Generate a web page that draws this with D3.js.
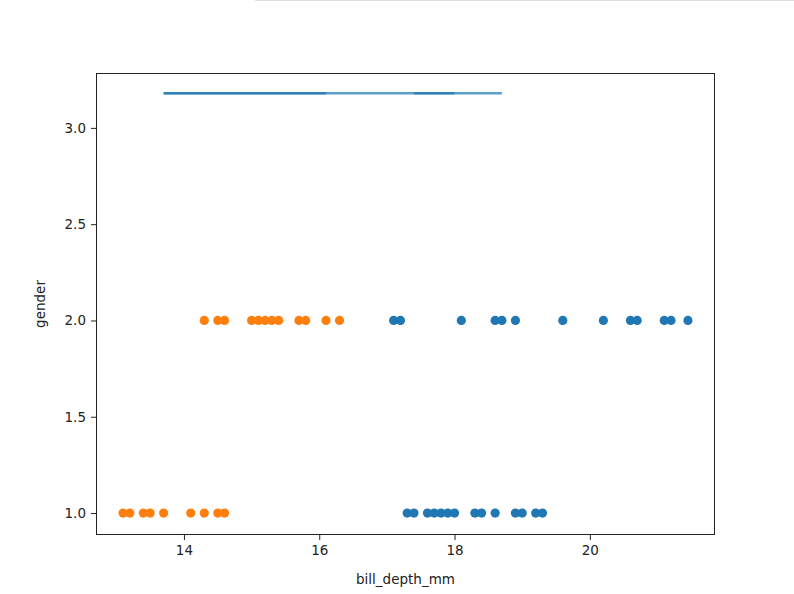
<!DOCTYPE html>
<html><head><meta charset="utf-8">
<script src="https://cdn.jsdelivr.net/npm/d3@7"></script>
<style>body{margin:0;background:#fff}svg{display:block}text{font-family:"DejaVu Sans",sans-serif}</style>
</head><body><svg id="c" width="794" height="594"></svg>
<script>
const xTicks = [14, 16, 18, 20];
const yTicks = [1.0, 1.5, 2.0, 2.5, 3.0];
const orangeGender2 = [14.3, 14.5, 14.6, 15.0, 15.1, 15.2, 15.3, 15.4, 15.7, 15.8, 16.1, 16.3];
const blueGender2 = [17.1, 17.2, 18.1, 18.6, 18.7, 18.9, 19.6, 20.2, 20.6, 20.7, 21.1, 21.2, 21.45];
const orangeGender1 = [13.1, 13.2, 13.4, 13.5, 13.7, 14.1, 14.3, 14.5, 14.6];
const blueGender1 = [17.3, 17.4, 17.6, 17.7, 17.8, 17.9, 18.0, 18.3, 18.4, 18.6, 18.9, 19.0, 19.2, 19.3];
const lineLevel = 3.18;
const lineStarts = [13.7, 13.7, 17.4];
const lineEnds = [18.7, 16.1, 18.0];

const svg = d3.select("#c");
const L = 96, R = 715, T = 73, B = 535;
const x = d3.scaleLinear().domain([12.70, 21.85]).range([L, R]);
const y = d3.scaleLinear().domain([0.886, 3.285]).range([B, T]);

// faint top line artifact
svg.append("line").attr("x1", 255).attr("x2", 794).attr("y1", 0.5).attr("y2", 0.5)
  .attr("stroke", "#e0e0e0").attr("stroke-width", 1);

// segments
const segs = lineStarts.map((s, i) => ({s, e: lineEnds[i]}));
svg.append("g").selectAll("line").data(segs).join("line")
  .attr("x1", d => x(d.s)).attr("x2", d => x(d.e))
  .attr("y1", y(lineLevel)).attr("y2", y(lineLevel))
  .attr("stroke", "#1f77b4").attr("stroke-width", 2.6).attr("stroke-opacity", 0.72);

function pts(arr, yv, color) {
  svg.append("g").selectAll("circle").data(arr).join("circle")
    .attr("cx", d => x(d)).attr("cy", y(yv)).attr("r", 4.6).attr("fill", color);
}
pts(blueGender2, 2, "#1f77b4");
pts(blueGender1, 1, "#1f77b4");
pts(orangeGender2, 2, "#ff7f0e");
pts(orangeGender1, 1, "#ff7f0e");

// axes
const xa = svg.append("g").attr("transform", `translate(0,${B})`)
  .call(d3.axisBottom(x).tickValues(xTicks).tickSize(5).tickPadding(5).tickFormat(d3.format("d")));
const ya = svg.append("g").attr("transform", `translate(${L},0)`)
  .call(d3.axisLeft(y).tickValues(yTicks).tickSize(5).tickPadding(5).tickFormat(d3.format(".1f")));
[xa, ya].forEach(a => {
  a.select(".domain").remove();
  a.selectAll("text").attr("font-size", 13.5).attr("fill", "#222").style("font-family", "DejaVu Sans");
  a.selectAll("line").attr("stroke", "#222");
});
svg.append("rect").attr("x", L + 0.5).attr("y", T + 0.5).attr("width", R - L - 1).attr("height", B - T - 1)
  .attr("fill", "none").attr("stroke", "#222").attr("stroke-width", 1);

svg.append("text").attr("x", (L + R) / 2).attr("y", 584).attr("text-anchor", "middle")
  .attr("font-size", 13.5).attr("fill", "#222").text("bill_depth_mm");
svg.append("text").attr("transform", `translate(45,${(T + B) / 2}) rotate(-90)`).attr("text-anchor", "middle")
  .attr("font-size", 13.5).attr("fill", "#222").text("gender");
</script></body></html>
